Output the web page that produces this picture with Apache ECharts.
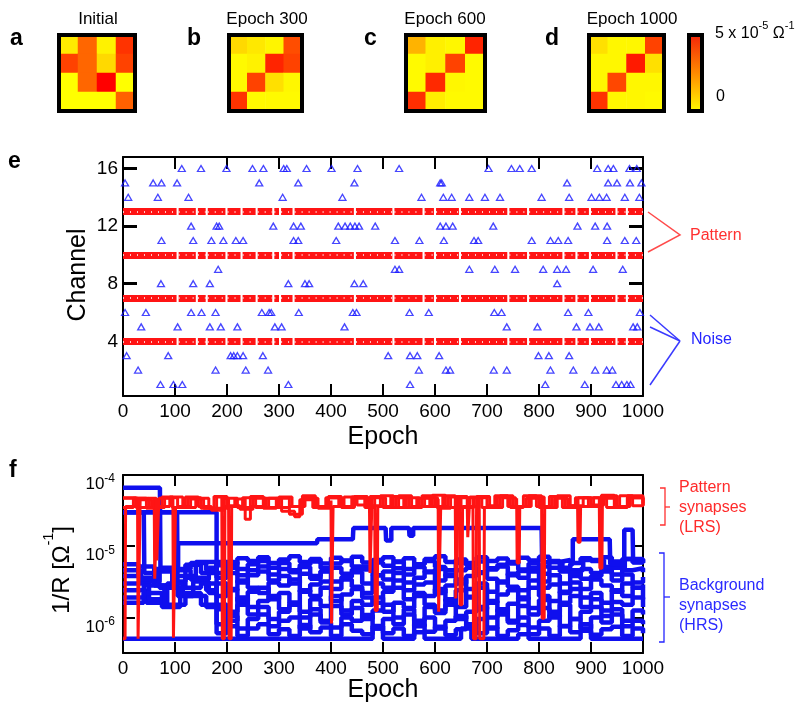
<!DOCTYPE html>
<html>
<head>
<meta charset="utf-8">
<script src="https://cdn.jsdelivr.net/npm/echarts@6/dist/echarts.min.js"></script>
<style>
  html, body { margin: 0; padding: 0; background: #fff; }
  #chart { width: 798px; height: 706px; }
</style>
</head>
<body>
<div id="chart"></div>
<script>
// ---- panel a-d : 4x4 conductance maps, units 1e-5 Ω^-1 (row 1 at top) ----
const heatTitles = ["Initial", "Epoch 300", "Epoch 600", "Epoch 1000"];
const heatInitial = [[0.4, 3.0, 0.25, 4.0], [3.7, 3.0, 0.75, 3.7], [0, 3.0, 5.0, 0], [0, 0, 0, 3.1]];
const heat300 = [[0.75, 0.45, 0.2, 3.5], [0.1, 0.25, 4.3, 3.7], [0.1, 3.7, 0.6, 0.15], [4.0, 0.1, 0.1, 0.1]];
const heat600 = [[1.5, 0.3, 0.15, 4.3], [0.1, 0.3, 3.7, 0.1], [0.1, 4.2, 0.15, 0.1], [4.1, 0.35, 0.1, 0.1]];
const heat1000 = [[0.6, 0.15, 0.15, 3.7], [0.15, 0.15, 4.5, 0.6], [0.15, 3.6, 0.15, 0.15], [4.0, 0.15, 0.15, 0.1]];

// ---- panel e : input channels per epoch ----
const patternChannels = [4, 7, 10, 13];
const patternGaps = [105, 142, 161, 199, 228, 257, 289, 302, 328, 446, 520, 578, 600, 648, 741, 779, 847, 872, 898, 949, 969];
const noise1 = [72, 97, 114, 318, 552, 812, 888, 948, 959, 969, 976];
const noise2 = [29, 178, 236, 279, 569, 621, 629, 713, 738, 822, 866, 908, 930, 941];
const noise3 = [7, 87, 207, 213, 220, 231, 269, 510, 552, 566, 608, 799, 819, 858];
const noise5 = [35, 105, 167, 188, 220, 292, 305, 426, 738, 797, 872, 898, 915, 981, 989];
const noise6 = [4, 44, 131, 151, 178, 267, 281, 285, 338, 442, 449, 551, 588, 714, 728, 856, 895, 994];
const noise8 = [73, 135, 167, 318, 350, 358, 445, 462, 835];
const noise9 = [183, 523, 531, 666, 715, 754, 808, 835, 852, 904, 961];
const noise11 = [74, 135, 170, 193, 217, 231, 328, 337, 410, 523, 570, 617, 675, 683, 786, 822, 837, 856, 931, 965, 987];
const noise12 = [131, 180, 185, 289, 328, 342, 414, 427, 437, 446, 454, 485, 610, 621, 634, 712, 874, 908, 931];
const noise14 = [10, 67, 126, 307, 422, 574, 616, 632, 666, 696, 725, 805, 858, 901, 916, 930, 965, 993];
const noise15 = [4, 58, 74, 104, 262, 337, 445, 610, 613, 854, 933, 950, 975, 997];
const noise16 = [113, 150, 199, 249, 270, 309, 315, 353, 401, 451, 531, 703, 747, 763, 786, 912, 933, 943, 974, 988];

// ---- panel f : 1/R traces in µS ----
// pattern synapses, [epoch, µS]
const pattern1 = [[0,0.5],[4,0.5],[5,36],[25,47],[50,35],[75,49],[96,36],[97,0.52],[100,0.52],[101,35],[125,48],[150,34],[175,50],[200,37],[225,33],[250,47],[275,35],[300,49],[325,36],[350,47],[375,34],[400,44],[401,0.82],[403,0.82],[404,36],[425,49],[450,38],[475,50],[500,35],[525,48],[550,35],[575,51],[600,38],[606,46],[607,1.2],[610,1.2],[611,36],[625,49],[650,35],[675,48],[700,37],[725,51],[750,36],[775,47],[800,35],[805,46],[806,0.97],[810,0.97],[811,36],[825,50],[850,35],[875,48],[900,38],[925,51],[950,36],[975,48],[1000,40]];
const pattern2 = [[0,47],[28,36],[29,0.5],[32,0.5],[33,45],[55,35],[80,48],[105,36],[130,46],[155,34],[180,49],[190,44],[191,0.5],[195,0.5],[196,36],[215,46],[235,24],[245,36],[270,47],[295,35],[320,28],[345,48],[370,36],[395,50],[420,35],[445,47],[474,37],[475,4.2],[478,4.2],[479,48],[505,35],[530,51],[555,36],[580,48],[605,34],[630,50],[662,38],[663,13.4],[666,13.4],[667,49],[690,35],[715,51],[740,36],[757,47],[758,5.8],[762,5.8],[763,36],[785,49],[810,35],[835,51],[860,37],[885,48],[916,36],[917,4.9],[921,4.9],[922,47],[945,35],[970,51],[1000,38]];
const pattern3 = [[0,35],[20,47],[45,34],[60,46],[61,3.5],[64,3.5],[65,36],[90,49],[115,35],[140,47],[165,34],[203,46],[204,0.5],[208,0.5],[209,36],[230,48],[255,35],[280,47],[305,31],[330,26],[340,45],[365,35],[390,48],[415,36],[440,49],[465,35],[484,46],[485,1.25],[489,1.25],[490,36],[515,50],[540,35],[565,47],[590,36],[615,51],[639,38],[640,1.85],[643,1.85],[644,48],[673,36],[674,0.5],[679,0.5],[680,50],[705,35],[730,48],[755,36],[780,51],[805,35],[830,47],[855,37],[874,49],[875,11.4],[879,11.4],[880,36],[905,48],[930,35],[955,51],[980,37],[1000,48]];
const pattern4 = [[0,48],[25,35],[50,47],[64,37],[65,6.3],[68,6.3],[69,47],[95,35],[120,49],[145,36],[170,32],[195,47],[220,35],[245,50],[270,34],[295,47],[320,36],[345,51],[370,35],[395,48],[420,36],[445,50],[470,37],[495,51],[520,35],[545,48],[570,36],[595,52],[620,35],[647,48],[648,1.5],[652,1.5],[653,36],[685,47],[686,0.5],[694,0.5],[695,35],[720,49],[745,35],[770,51],[795,36],[820,50],[845,35],[870,48],[895,36],[920,52],[945,36],[970,48],[1000,37]];

// background synapses: early breakpoints [epoch, µS], then one value per step of lateEpochs, then tail breakpoints
const lateEpochs = [180, 200, 220, 240, 260, 280, 300, 320, 340, 360, 380, 400, 420, 440, 460, 480, 500, 520, 540, 560, 580, 600, 620, 640, 660, 680, 700, 720, 740, 760, 780, 800, 820, 840, 860, 880, 900, 920, 940, 960, 980, 1000];
const bgEarly1 = [[0,66],[71,66],[72,5.0],[95,3.2],[120,5.5],[150,4.2]];
const bgLate1 = [6.0,5.6,6.8,6.2,7.0,5.8,6.5,7.2,6.0,6.6,5.7,6.9,6.3,7.1,5.9,6.4,7.0,6.1,6.8,5.6,6.6,7.2,6.0,6.5,5.8,7.0,6.2,6.7,5.7,6.9,6.3,7.1,6.0,6.4,5.8,6.8,6.2,7.0,6.1,6.6,5.9,6.5];
const bgEarly2 = [[0,30],[40,30],[41,4.2],[70,2.6],[100,4.6],[130,3.4],[165,5.0]];
const bgLate2 = [4.2,5.0,3.9,4.6,5.2,4.0,4.8,4.3,5.1,3.8,4.5,5.0,4.1,4.7,5.2,3.9,4.4,4.9,4.0,5.1,4.3,4.8,3.8,4.6,5.0,4.2,4.7,5.2,3.9,4.5,4.9,4.1,5.0,4.4,3.8,4.8,4.2,5.1,4.0,4.6,4.9,4.3];
const bgEarly3 = [[0,30],[104,30],[105,2.0],[135,3.2],[165,2.2]];
const bgLate3 = [3.0,2.4,3.3,2.6,2.2,3.1,2.8,3.4,2.3,2.9,3.2,2.5,3.4,2.7,2.2,3.0,2.6,3.3,2.4,2.9,3.1,2.2,2.8,3.4,2.5,3.0,2.3,3.2,2.7,2.4,3.3,2.6,2.9,2.2,3.1,2.5,3.4,2.8,2.3,3.0,2.6,2.9];
const bgEarly4 = [[0,30]];
const bgLate4 = [1.3,0.9,1.5,1.1,1.4,0.95,1.2,1.5,1.0,1.3,0.9,1.45,1.1,1.35,0.95,1.25,1.5,1.0,1.3,0.9,1.4,1.15,1.5,0.95,1.2,1.4,1.0,1.3,0.9,1.45,1.1,1.35,1.0,1.5,0.95,1.2,1.4,1.05,1.3,0.9,1.25,1.1];
const bgEarly5 = [[0,4.6],[35,3.2],[70,4.4],[106,11],[373,11],[374,12.5],[442,12.5],[443,18],[505,18],[506,12],[516,18],[550,18],[551,14],[558,18],[805,18],[806,6.0],[845,4.6],[885,6.4],[925,5.0],[965,6.6],[1000,5.8]];
const bgLate5 = [];
const bgEarly6 = [[0,3.8],[30,5.2],[60,2.8],[95,4.8],[130,5.8],[160,4.6]];
const bgLate6 = [5.4,6.0,4.8,5.6,6.2,5.0,5.8,4.6,5.5,6.1,4.9,5.7,6.2,5.2,4.7,5.9,5.3,6.0,4.8,5.6,6.2,5.1,4.6,5.8,5.4,6.1,4.9,5.5,6.0,4.7,5.7,5.2,6.2,5.0,5.6];
const bgTail6 = [[865,12.5],[936,12.5],[937,5.6],[964,17],[980,17],[981,6.0],[1000,6.0]];
const bgEarly7 = [[0,0.5],[470,0.5],[480,0.7],[500,0.5],[560,0.62],[580,0.5],[650,0.7],[670,0.5],[760,0.58],[780,0.5],[880,0.65],[900,0.5],[1000,0.5]];
const bgLate7 = [];
const bgEarly8 = [[0,2.4],[45,1.6],[85,3.0],[115,2.2],[150,1.5]];
const bgLate8 = [0.8,1.05,0.7,0.95,1.1,0.75,0.9,1.0,0.7,1.1,0.85,0.72,1.0,0.9,1.08,0.7,0.95,0.8,1.1,0.75,1.0,0.7,0.9,1.05,0.78,0.95,0.7,1.1,0.85,1.0,0.72,0.9,1.08,0.75,0.95,0.7,1.0,0.85,1.1,0.75,0.9,0.8];
const bgEarly9 = [[0,3.0],[50,1.8],[80,2.6],[120,3.6],[160,2.4]];
const bgLate9 = [2.0,2.5,1.7,2.3,2.6,1.8,2.2,1.6,2.4,2.0,2.6,1.7,2.1,2.5,1.9,1.6,2.3,2.6,1.8,2.2,2.0,2.5,1.7,2.4,1.9,2.6,1.6,2.1,2.4,1.8,2.6,2.0,1.7,2.3,2.5,1.9,2.2,1.6,2.4,2.0,2.6,1.8];
const bgEarly10 = [[0,1.6],[40,2.2],[75,1.4],[110,2.6],[150,3.0]];
const bgLate10 = [1.5,1.2,1.9,1.4,1.7,2.0,1.3,1.6,1.2,1.8,1.45,2.0,1.25,1.7,1.5,1.9,1.2,1.6,1.35,2.0,1.5,1.25,1.8,1.4,1.95,1.3,1.7,1.2,1.55,1.9,1.35,1.75,1.2,1.6,2.0,1.4,1.8,1.25,1.65,1.5,1.9,1.4];
const bgEarly11 = [[0,5.6],[30,3.6],[65,4.8],[100,3.8],[140,6.0]];
const bgLate11 = [3.6,4.2,3.1,3.9,4.4,3.3,3.8,3.0,4.1,3.5,4.4,3.2,3.7,4.3,3.0,3.9,3.4,4.2,3.1,3.6,4.4,3.3,4.0,3.0,3.8,4.3,3.5,3.1,4.1,3.6,4.4,3.2,3.9,3.0,4.2,3.5,3.8,4.4,3.3,4.0,3.1,3.7];
const bgEarly12 = [[0,1.9],[40,2.8],[80,1.5],[120,2.0],[160,1.4]];
const bgLate12 = [0.6,0.75,0.55,0.7,0.8,0.58,0.68,0.55,0.78,0.62,0.72,0.55,0.8,0.65,0.58,0.76,0.6,0.7,0.55,0.8,0.63,0.74,0.56,0.68,0.8,0.6,0.72,0.55,0.66,0.78,0.58,0.7,0.55,0.76,0.62,0.8,0.57,0.68,0.74,0.55,0.7,0.6];

const FONT = '"Liberation Sans", Arial, Helvetica, sans-serif';
const RED = "#ff1414";
const BLUE = "#0f0fee";

const chart = echarts.init(document.getElementById("chart"));

// grids: 0-3 heatmaps, 4 panel e, 5 panel f
const heatBoxes = [[59, 35, 76, 76], [229, 35, 73, 76], [406, 35, 79, 76], [589, 35, 75, 76]];
const grids = heatBoxes.map((b) => ({ left: b[0], top: b[1], width: b[2], height: b[3] }));
grids.push({ left: 123, top: 157, width: 520, height: 239 });
grids.push({ left: 123, top: 475, width: 520, height: 178 });

const cells = ["1", "2", "3", "4"];
const xAxes = [];
const yAxes = [];
heatBoxes.forEach((b, i) => {
  xAxes.push({ type: "category", gridIndex: i, data: cells, show: false });
  yAxes.push({ type: "category", gridIndex: i, data: cells, inverse: true, show: false });
});

const frameLine = { show: true, onZero: false, lineStyle: { color: "#000", width: 2 } };
function epochAxis(grid, pos, labels, tickLen) {
  return {
    type: "value", gridIndex: grid, position: pos, min: 0, max: 1000, interval: 100,
    axisLine: frameLine,
    axisTick: { show: true, inside: true, length: tickLen, lineStyle: { color: "#000", width: 2 } },
    axisLabel: { show: labels, fontSize: 19, color: "#000", fontFamily: FONT, margin: 6, formatter: (v) => String(v) },
    splitLine: { show: false },
  };
}
xAxes.push(epochAxis(4, "bottom", true, 12)); // 4
xAxes.push(epochAxis(4, "top", false, 12));   // 5
xAxes.push(epochAxis(5, "bottom", true, 11)); // 6
xAxes.push(epochAxis(5, "top", false, 11));   // 7

const chanTicks = [4, 8, 12, 16];
function chanAxis(pos, labels) {
  return {
    type: "value", gridIndex: 4, position: pos, min: 0.2, max: 16.8,
    axisLine: frameLine,
    axisTick: { show: true, inside: true, length: 14, customValues: chanTicks, lineStyle: { color: "#000", width: 3 } },
    axisLabel: { show: labels, customValues: chanTicks, fontSize: 19, color: "#000", fontFamily: FONT, margin: 5 },
    splitLine: { show: false },
  };
}
yAxes.push(chanAxis("left", true));   // 4
yAxes.push(chanAxis("right", false)); // 5

const decades = [-6, -5, -4];
function condAxis(pos, labels) {
  return {
    type: "value", gridIndex: 5, position: pos, min: -6.5, max: -4,
    axisLine: frameLine,
    axisTick: { show: true, inside: true, length: 12, customValues: decades, lineStyle: { color: "#000", width: 2 } },
    axisLabel: {
      show: labels, customValues: decades, margin: 8, padding: [16, 0, 0, 0],
      formatter: (v) => "{b|10}{s|" + v + "}",
      rich: {
        b: { fontSize: 17, fontFamily: FONT, color: "#000", verticalAlign: "bottom", lineHeight: 20 },
        s: { fontSize: 12, fontFamily: FONT, color: "#000", verticalAlign: "top", lineHeight: 20 },
      },
    },
    splitLine: { show: false },
  };
}
yAxes.push(condAxis("left", true));   // 6
yAxes.push(condAxis("right", false)); // 7

const series = [];
[heatInitial, heat300, heat600, heat1000].forEach((m, i) => {
  const data = [];
  m.forEach((row, r) => row.forEach((v, c) => data.push([c, r, v])));
  series.push({ type: "heatmap", xAxisIndex: i, yAxisIndex: i, data: data });
});

// panel e: pattern rows as bands broken at the gaps
const runs = [];
let start = 0;
patternGaps.forEach((g) => { runs.push([start, g - 2]); start = g + 2; });
runs.push([start, 1000]);
const bandData = [];
patternChannels.forEach((ch) => runs.forEach((r) => bandData.push({ coords: [[r[0], ch], [r[1], ch]] })));
series.push({
  type: "lines", coordinateSystem: "cartesian2d", xAxisIndex: 4, yAxisIndex: 4,
  data: bandData, lineStyle: { color: RED, width: 7, opacity: 1 }, silent: true,
});
series.push({
  type: "lines", coordinateSystem: "cartesian2d", xAxisIndex: 4, yAxisIndex: 4,
  data: bandData, lineStyle: { color: "#fff", width: 2, opacity: 0.75, type: [1, 6] }, silent: true,
});

const noiseByChannel = [[1, noise1], [2, noise2], [3, noise3], [5, noise5], [6, noise6], [8, noise8],
  [9, noise9], [11, noise11], [12, noise12], [14, noise14], [15, noise15], [16, noise16]];
const noisePts = [];
noiseByChannel.forEach((n) => n[1].forEach((e) => noisePts.push([e, n[0]])));
series.push({
  type: "scatter", xAxisIndex: 4, yAxisIndex: 4, data: noisePts,
  symbol: "triangle", symbolSize: [7, 6],
  itemStyle: { color: "rgba(255,255,255,0)", borderColor: "#1818ff", borderWidth: 1.3 },
});

// panel f
const toLog = (pts) => pts.map((p) => [p[0], Math.log10(p[1] * 1e-6)]);
function trace(early, late, tail) {
  const pts = early.slice();
  late.forEach((v, i) => pts.push([lateEpochs[i], v]));
  return pts.concat(tail || []);
}
const backgroundTraces = [
  trace(bgEarly1, bgLate1), trace(bgEarly2, bgLate2), trace(bgEarly3, bgLate3), trace(bgEarly4, bgLate4),
  trace(bgEarly5, bgLate5), trace(bgEarly6, bgLate6, bgTail6), trace(bgEarly7, bgLate7), trace(bgEarly8, bgLate8),
  trace(bgEarly9, bgLate9), trace(bgEarly10, bgLate10), trace(bgEarly11, bgLate11), trace(bgEarly12, bgLate12),
];
backgroundTraces.forEach((b) => {
  series.push({
    type: "line", xAxisIndex: 6, yAxisIndex: 6, data: toLog(b), step: "end",
    symbol: "none", lineStyle: { color: BLUE, width: 4.5 }, z: 3,
  });
});
[pattern1, pattern2, pattern3, pattern4].forEach((p) => {
  series.push({
    type: "line", xAxisIndex: 6, yAxisIndex: 6, data: toLog(p), step: "end",
    symbol: "none", lineStyle: { color: RED, width: 3 }, z: 4,
  });
});

// text and decorations
function txt(x, y, text, style, extra) {
  return Object.assign({ type: "text", x: x, y: y, z: 100,
    style: Object.assign({ text: text, fill: "#000", fontFamily: FONT, fontSize: 17,
      textAlign: "center", textVerticalAlign: "middle" }, style) }, extra || {});
}
const sup = { s: { fontSize: 11, fontFamily: FONT, verticalAlign: "top", lineHeight: 22 },
              n: { fontSize: 16, fontFamily: FONT, verticalAlign: "bottom", lineHeight: 22 } };
const graphics = [];
const titleX = [98, 267, 445, 632];
heatTitles.forEach((t, i) => graphics.push(txt(titleX[i], 19, t, { fontSize: 17 })));
heatBoxes.forEach((b) => graphics.push({
  type: "rect", z: 100, shape: { x: b[0], y: b[1], width: b[2], height: b[3] },
  style: { fill: "none", stroke: "#000", lineWidth: 4 },
}));
graphics.push({
  type: "rect", z: 100, shape: { x: 689, y: 35, width: 13, height: 76 },
  style: {
    fill: new echarts.graphic.LinearGradient(0, 0, 0, 1, [
      { offset: 0, color: "#f2200a" }, { offset: 0.5, color: "#ff8a00" }, { offset: 1, color: "#ffff00" }]),
    stroke: "#000", lineWidth: 4,
  },
});
graphics.push(txt(715, 31, "{n|5 x 10}{s|-5}{n| Ω}{s|-1}", { textAlign: "left", rich: sup }));
graphics.push(txt(716, 97, "0", { textAlign: "left", fontSize: 16 }));
[["a", 10], ["b", 187], ["c", 364], ["d", 545]].forEach((l) =>
  graphics.push(txt(l[1], 50, l[0], { fontSize: 23, fontWeight: "bold", textAlign: "left", textVerticalAlign: "bottom" })));
graphics.push(txt(8, 173, "e", { fontSize: 23, fontWeight: "bold", textAlign: "left", textVerticalAlign: "bottom" }));
graphics.push(txt(9, 482, "f", { fontSize: 23, fontWeight: "bold", textAlign: "left", textVerticalAlign: "bottom" }));

graphics.push(txt(78, 275, "Channel", { fontSize: 25 }, { rotation: Math.PI / 2 }));
graphics.push(txt(383, 437, "Epoch", { fontSize: 25 }));
graphics.push(txt(383, 690, "Epoch", { fontSize: 25 }));
graphics.push(txt(58, 570, "{n|1/R [Ω}{s|-1}{n|]}", {
  rich: { n: { fontSize: 24, fontFamily: FONT, verticalAlign: "bottom", lineHeight: 32 },
          s: { fontSize: 14, fontFamily: FONT, verticalAlign: "top", lineHeight: 32 } },
}, { rotation: Math.PI / 2 }));

// e annotations
graphics.push({ type: "polyline", z: 100, shape: { points: [[648, 212], [680, 235], [648, 252]] },
  style: { stroke: "#ff4a4a", lineWidth: 1.5, fill: "none" } });
graphics.push(txt(690, 236, "Pattern", { fill: "#ff3030", fontSize: 16, textAlign: "left" }));
[[650, 315], [650, 327], [650, 385]].forEach((p) => graphics.push({
  type: "line", z: 100, shape: { x1: p[0], y1: p[1], x2: 680, y2: 341 },
  style: { stroke: "#3a3aff", lineWidth: 1.5 } }));
graphics.push(txt(691, 340, "Noise", { fill: "#2525ff", fontSize: 16, textAlign: "left" }));

// f braces and labels
graphics.push({ type: "polyline", z: 100, shape: { points: [[660, 488], [665, 488], [665, 525], [660, 525]] },
  style: { stroke: "#ff3030", lineWidth: 1.3, fill: "none" } });
graphics.push({ type: "line", z: 100, shape: { x1: 665, y1: 507, x2: 670, y2: 507 }, style: { stroke: "#ff3030", lineWidth: 1.3 } });
graphics.push({ type: "polyline", z: 100, shape: { points: [[659, 553], [664, 553], [664, 642], [659, 642]] },
  style: { stroke: "#2525ff", lineWidth: 1.3, fill: "none" } });
graphics.push({ type: "line", z: 100, shape: { x1: 664, y1: 597, x2: 670, y2: 597 }, style: { stroke: "#2525ff", lineWidth: 1.3 } });
["Pattern", "synapses", "(LRS)"].forEach((t, i) =>
  graphics.push(txt(679, 488 + i * 20, t, { fill: "#ff2a2a", fontSize: 16, textAlign: "left" })));
["Background", "synapses", "(HRS)"].forEach((t, i) =>
  graphics.push(txt(679, 586 + i * 20, t, { fill: "#2a2aff", fontSize: 16, textAlign: "left" })));

chart.setOption({
  animation: false,
  backgroundColor: "#fff",
  textStyle: { fontFamily: FONT },
  grid: grids,
  xAxis: xAxes,
  yAxis: yAxes,
  visualMap: {
    show: false, type: "continuous", seriesIndex: [0, 1, 2, 3], min: 0, max: 5,
    inRange: { color: ["#ffff00", "#ff0000"] },
  },
  series: series,
  graphic: graphics,
});
</script>
</body>
</html>
